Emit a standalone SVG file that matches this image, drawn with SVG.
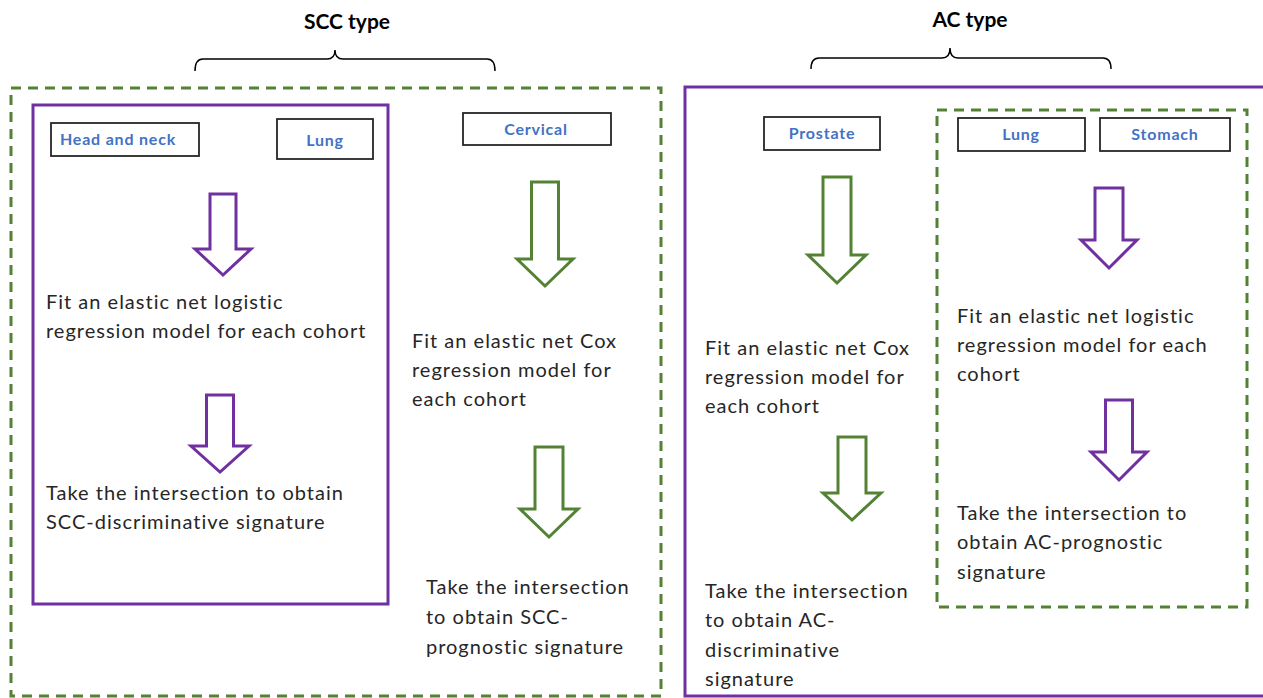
<svg xmlns="http://www.w3.org/2000/svg" width="1263" height="698" viewBox="0 0 1263 698">
<style>
.bg{fill:#fff}
.dash{fill:none;stroke:#548235;stroke-width:3;stroke-dasharray:10 7}
.solid{fill:none;stroke:#7030A0;stroke-width:3}
.lbl{fill:#fff;stroke:#262626;stroke-width:1.8}
.lt{font-family:Lato,"Liberation Sans",sans-serif;font-weight:bold;font-size:16px;letter-spacing:0.8px;fill:#4472C4;text-anchor:middle}
.tx{font-family:Lato,"Liberation Sans",sans-serif;font-size:20px;letter-spacing:1px;fill:#262626}
.ttl{font-family:Lato,"Liberation Sans",sans-serif;font-weight:bold;font-size:21px;fill:#000;text-anchor:middle}
.brace{fill:none;stroke:#000;stroke-width:1.5}
.ap{fill:#fff;stroke:#7030A0;stroke-width:3;stroke-linejoin:miter}
.ag{fill:#fff;stroke:#548235;stroke-width:3;stroke-linejoin:miter}
</style>
<rect class="bg" x="0" y="0" width="1263" height="698"/>

<g id="titles">
<text class="ttl" x="347" y="29">SCC type</text>
<path class="brace" d="M195,71 Q195,59 203,59 L327,59 Q335,59 335,50 Q335,59 343,59 L487,59 Q495,59 495,71"/>
<text class="ttl" x="970" y="27">AC type</text>
<path class="brace" d="M811,69 Q811,58 819,58 L942,58 Q950,58 950,48 Q950,58 958,58 L1103,58 Q1111,58 1111,69"/>
</g>

<g id="scc-group">
<rect class="dash" x="11" y="88" width="650" height="608"/>
</g>
<g id="scc-discriminative">
<rect class="solid" x="33" y="105" width="355" height="499"/>
</g>
<g id="head-and-neck">
<rect class="lbl" x="51" y="123" width="148" height="33"/>
<text class="lt" x="118" y="145">Head and neck</text>
</g>
<g id="scc-lung">
<rect class="lbl" x="277" y="119" width="96" height="40"/>
<text class="lt" x="325" y="146">Lung</text>
</g>
<g id="cervical">
<rect class="lbl" x="463" y="113" width="148" height="32"/>
<text class="lt" x="536" y="135">Cervical</text>
</g>
<g id="scc-fit-logistic">
<text class="tx" x="46" y="309">Fit an elastic net logistic</text>
<text class="tx" x="46" y="338">regression model for each cohort</text>
</g>
<g id="scc-disc-signature">
<text class="tx" x="46" y="500">Take the intersection to obtain</text>
<text class="tx" x="46" y="529">SCC-discriminative  signature</text>
</g>
<g id="scc-fit-cox">
<text class="tx" x="412" y="348">Fit an elastic net Cox</text>
<text class="tx" x="412" y="377">regression model for</text>
<text class="tx" x="412" y="406">each cohort</text>
</g>
<g id="scc-prog-signature">
<text class="tx" x="426" y="594">Take the intersection</text>
<text class="tx" x="426" y="624">to obtain SCC-</text>
<text class="tx" x="426" y="654">prognostic signature</text>
</g>

<g id="ac-discriminative">
<rect class="solid" x="685" y="87" width="620" height="609"/>
</g>
<g id="ac-prognostic">
<rect class="dash" x="937" y="110" width="310" height="497"/>
</g>
<g id="prostate">
<rect class="lbl" x="764" y="117" width="116" height="33"/>
<text class="lt" x="822" y="139">Prostate</text>
</g>
<g id="ac-lung">
<rect class="lbl" x="958" y="118" width="127" height="33"/>
<text class="lt" x="1021" y="140">Lung</text>
</g>
<g id="stomach">
<rect class="lbl" x="1100" y="118" width="130" height="33"/>
<text class="lt" x="1165" y="140">Stomach</text>
</g>
<g id="ac-fit-cox">
<text class="tx" x="705" y="355">Fit an elastic net Cox</text>
<text class="tx" x="705" y="384">regression model for</text>
<text class="tx" x="705" y="413">each cohort</text>
</g>
<g id="ac-disc-signature">
<text class="tx" x="705" y="598">Take the intersection</text>
<text class="tx" x="705" y="627">to obtain AC-</text>
<text class="tx" x="705" y="657">discriminative</text>
<text class="tx" x="705" y="686">signature</text>
</g>
<g id="ac-fit-logistic">
<text class="tx" x="957" y="323">Fit an elastic net logistic</text>
<text class="tx" x="957" y="352">regression model for each</text>
<text class="tx" x="957" y="381">cohort</text>
</g>
<g id="ac-prog-signature">
<text class="tx" x="957" y="520">Take the intersection to</text>
<text class="tx" x="957" y="549">obtain AC-prognostic</text>
<text class="tx" x="957" y="579">signature</text>
</g>

<g id="connectors">
<polygon class="ap" points="210,194 236,194 236,249 251,249 223,275 195,249 210,249"/>
<polygon class="ap" points="206.5,395 233.5,395 233.5,446 249,446 220,472 191,446 206.5,446"/>
<polygon class="ag" points="531.5,182 558.5,182 558.5,259 573,259 545,286 517,259 531.5,259"/>
<polygon class="ag" points="535,447 563,447 563,509 578,509 549,537 520,509 535,509"/>
<polygon class="ag" points="823,177 851,177 851,255 866,255 837,283 808,255 823,255"/>
<polygon class="ag" points="838,437 866,437 866,493 881,493 852,520 823,493 838,493"/>
<polygon class="ap" points="1095,188 1123,188 1123,240 1137,240 1109,268 1081,240 1095,240"/>
<polygon class="ap" points="1105.5,400 1132.5,400 1132.5,452 1147,452 1119,480 1091,452 1105.5,452"/>
</g>
</svg>
